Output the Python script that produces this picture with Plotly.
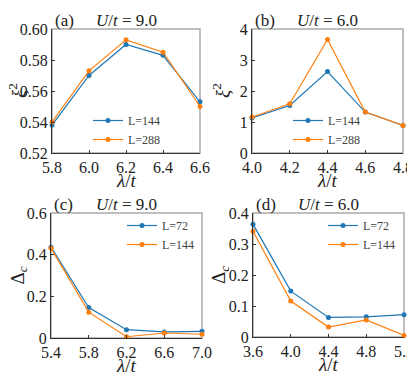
import plotly.graph_objects as go

# panel (a): U/t = 9.0
lam_a = [5.8, 6.0, 6.2, 6.4, 6.6]
xi2_a_L144 = [0.538, 0.570, 0.590, 0.583, 0.553]
xi2_a_L288 = [0.540, 0.573, 0.593, 0.585, 0.550]

# panel (b): U/t = 6.0
lam_b = [4.0, 4.2, 4.4, 4.6, 4.8]
xi2_b_L144 = [1.13, 1.53, 2.63, 1.32, 0.89]
xi2_b_L288 = [1.16, 1.59, 3.66, 1.32, 0.89]

# panel (c): U/t = 9.0
lam_c = [5.4, 5.8, 6.2, 6.6, 7.0]
gap_c_L72 = [0.436, 0.146, 0.040, 0.029, 0.032]
gap_c_L144 = [0.431, 0.124, 0.006, 0.024, 0.018]

# panel (d): U/t = 6.0
lam_d = [3.6, 4.0, 4.4, 4.8, 5.2]
gap_d_L72 = [0.364, 0.148, 0.063, 0.065, 0.072]
gap_d_L144 = [0.341, 0.116, 0.032, 0.055, 0.005]

yticks_a = [0.52, 0.54, 0.56, 0.58, 0.60]
yticks_b = [0, 1, 2, 3, 4]
yticks_c = [0, 0.2, 0.4, 0.6]
ytext_c = ["0", "0.2", "0.4", "0.6"]
yticks_d = [0, 0.1, 0.2, 0.3, 0.4]
ytext_d = ["0", "0.1", "0.2", "0.3", "0.4"]

BLUE = "#1f77b4"
ORANGE = "#ff7f0e"
FONT = "Liberation Serif"
ink = "#222"

# the page body has an 8px margin, so the figure is made 8px smaller
OFF = 8
W, H = 415 - OFF, 376 - OFF


def px(x):
    return (x - OFF) / W


def py(y):
    return 1 - (y - OFF) / H


fig = go.Figure()


def add_line(x, y, name, color, xa, ya, legend):
    fig.add_trace(go.Scatter(
        x=x, y=y, name=name, mode="lines+markers",
        line=dict(color=color, width=1.2),
        marker=dict(color=color, size=5),
        xaxis=xa, yaxis=ya, legend=legend, cliponaxis=False,
    ))


add_line(lam_a, xi2_a_L144, "L=144", BLUE, "x", "y", "legend")
add_line(lam_a, xi2_a_L288, "L=288", ORANGE, "x", "y", "legend")
add_line(lam_b, xi2_b_L144, "L=144", BLUE, "x2", "y2", "legend2")
add_line(lam_b, xi2_b_L288, "L=288", ORANGE, "x2", "y2", "legend2")
add_line(lam_c, gap_c_L72, "L=72", BLUE, "x3", "y3", "legend3")
add_line(lam_c, gap_c_L144, "L=144", ORANGE, "x3", "y3", "legend3")
add_line(lam_d, gap_d_L72, "L=72", BLUE, "x4", "y4", "legend4")
add_line(lam_d, gap_d_L144, "L=144", ORANGE, "x4", "y4", "legend4")

# plot boxes in page pixels: left, right, top, bottom
boxes = [(52, 200, 29, 153), (252, 403, 29, 153),
         (51, 202, 213, 338), (253, 404, 213, 337)]
ytitle_x = [17, 221, 18, 220]
xranges = [[5.8, 6.6], [4.0, 4.8], [5.4, 7.0], [3.6, 5.2]]
yranges = [[0.52, 0.60], [0, 4], [0, 0.6], [0, 0.4]]
xtickvals = [lam_a, lam_b, lam_c, lam_d]
ytickvals = [yticks_a, yticks_b, yticks_c, yticks_d]
yticktext = [[f"{v:.2f}" for v in yticks_a], [str(v) for v in yticks_b], ytext_c, ytext_d]
ytitles = ["<i>ξ</i><sup>2</sup>", "<i>ξ</i><sup>2</sup>",
           "Δ<sub><i>c</i></sub>", "Δ<sub><i>c</i></sub>"]
labels = ["(a)", "(b)", "(c)", "(d)"]
utitles = ["9.0", "6.0", "9.0", "6.0"]

axes = {}
for i, (l, r, t, b) in enumerate(boxes):
    n = "" if i == 0 else str(i + 1)
    axes["xaxis" + n] = dict(
        domain=[px(l), px(r)], range=xranges[i], anchor="y" + n, automargin=False,
        tickmode="array", tickvals=xtickvals[i], ticktext=[f"{v:.1f}" for v in xtickvals[i]],
        ticks="inside", ticklen=3, tickcolor="#333",
        showline=True, linecolor="#333", linewidth=1.2,
        showgrid=False, zeroline=False,
        tickfont=dict(family=FONT, size=16, color=ink),
    )
    axes["yaxis" + n] = dict(
        domain=[py(b), py(t)], range=yranges[i], anchor="x" + n, automargin=False,
        tickmode="array", tickvals=ytickvals[i], ticktext=yticktext[i],
        ticks="inside", ticklen=3, tickcolor="#333",
        showline=True, linecolor="#333", linewidth=1.2,
        showgrid=False, zeroline=False,
        tickfont=dict(family=FONT, size=16, color=ink),
    )
    # light grey frame (top / right spines)
    fig.add_shape(type="rect", xref="x" + n + " domain", yref="y" + n + " domain",
                  x0=0, x1=1, y0=0, y1=1, layer="below",
                  line=dict(color="#aaaaaa", width=1.5))
    # axis titles
    fig.add_annotation(x=px((l + r) / 2), y=py(b + 27), xref="paper", yref="paper",
                       text="<i>λ</i>/<i>t</i>", showarrow=False,
                       xanchor="center", yanchor="middle",
                       font=dict(family=FONT, size=19, color=ink))
    fig.add_annotation(x=px(ytitle_x[i]), y=py((t + b) / 2), xref="paper", yref="paper",
                       text=ytitles[i], showarrow=False, textangle=-90,
                       xanchor="center", yanchor="middle",
                       font=dict(family=FONT, size=19, color=ink))
    # panel label and title
    fig.add_annotation(x=px(l + 1), y=py(t - 9), xref="paper", yref="paper",
                       text=labels[i], showarrow=False, xanchor="left", yanchor="middle",
                       font=dict(family=FONT, size=17, color=ink))
    fig.add_annotation(x=px((l + r) / 2), y=py(t - 9), xref="paper", yref="paper",
                       text=f"<i>U</i>/<i>t</i> = {utitles[i]}", showarrow=False,
                       xanchor="center", yanchor="middle",
                       font=dict(family=FONT, size=17, color=ink))

legend_style = dict(bgcolor="rgba(0,0,0,0)", borderwidth=0, xanchor="left", yanchor="top",
                    font=dict(family=FONT, size=12, color="#444"), tracegroupgap=0)
fig.update_layout(
    width=W, height=H, margin=dict(l=0, r=0, t=0, b=0),
    font=dict(family=FONT, size=16, color=ink),
    paper_bgcolor="white", plot_bgcolor="white", showlegend=True,
    legend=dict(x=px(88), y=py(106), **legend_style),
    legend2=dict(x=px(288), y=py(106), **legend_style),
    legend3=dict(x=px(122), y=py(211), **legend_style),
    legend4=dict(x=px(323), y=py(211), **legend_style),
    **axes,
)

fig.write_html("out.html")
